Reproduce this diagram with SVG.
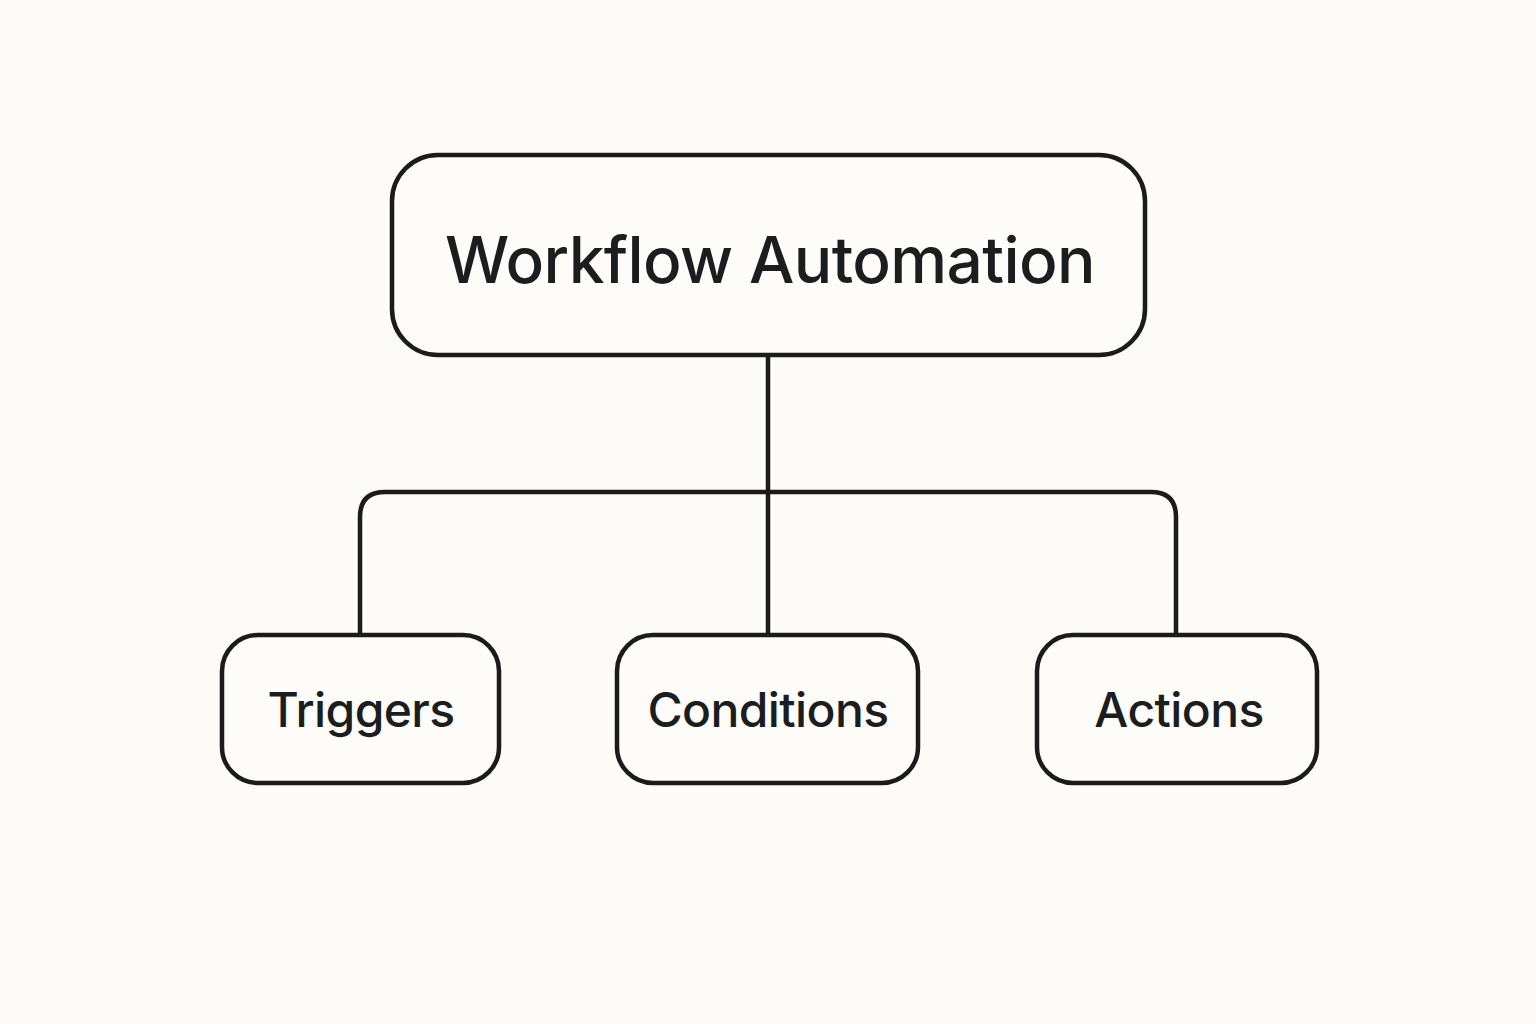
<svg xmlns="http://www.w3.org/2000/svg" width="1536" height="1024" viewBox="0 0 1536 1024">
<style>
.box{fill:#fdfcf8;stroke:#1b1b1b;stroke-width:4.5}
.ln{fill:none;stroke:#1b1b1b;stroke-width:4.5}
.t{font-family:Inter,"Noto Sans","Liberation Sans",sans-serif;font-weight:500;fill:#1b1d1f;text-anchor:middle;letter-spacing:-0.6px}
</style>
<rect width="1536" height="1024" fill="#fcfbf7"/>
<g id="connectors">
<path class="ln" d="M768 355 V633"/>
<path class="ln" d="M360 635 V517 Q360 492 385 492 H1151 Q1176 492 1176 517 V635"/>
</g>
<g id="node-workflow">
<rect class="box" x="392" y="155" width="753" height="200" rx="46"/>
<text class="t" x="770" y="283" font-size="64">Workflow Automation</text>
</g>
<g id="node-triggers">
<rect class="box" x="222" y="635" width="277" height="148" rx="36"/>
<text class="t" x="361" y="727" font-size="48">Triggers</text>
</g>
<g id="node-conditions">
<rect class="box" x="617" y="635" width="301" height="148" rx="36"/>
<text class="t" x="768" y="727" font-size="48">Conditions</text>
</g>
<g id="node-actions">
<rect class="box" x="1037" y="635" width="280" height="148" rx="36"/>
<text class="t" x="1179" y="727" font-size="48">Actions</text>
</g>
</svg>
